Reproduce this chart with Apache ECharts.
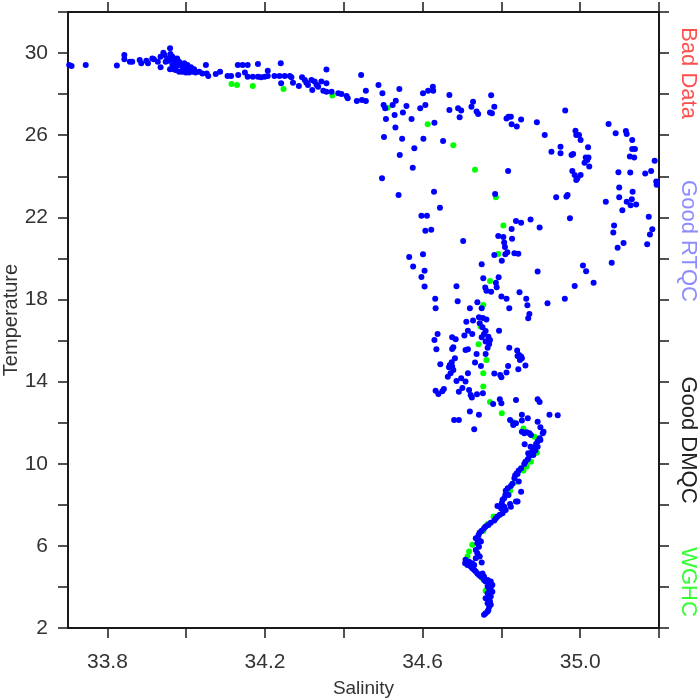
<!DOCTYPE html>
<html>
<head>
<meta charset="utf-8">
<script src="https://cdn.jsdelivr.net/npm/echarts@6/dist/echarts.min.js"></script>
<style>html,body{margin:0;padding:0;background:#fff}#c{width:700px;height:700px}</style>
</head>
<body>
<div id="c"></div>
<script>
// Salinity (x) / Temperature (y) tick values
var xTicks = [33.8, 34.0, 34.2, 34.4, 34.6, 34.8, 35.0, 35.2];
var xLabels = [33.8, 34.2, 34.6, 35.0];
var yTicks = [2, 4, 6, 8, 10, 12, 14, 16, 18, 20, 22, 24, 26, 28, 30, 32];
var yLabels = [2, 6, 10, 14, 18, 22, 26, 30];
var sideLabels = ['Bad Data', 'Good RTQC', 'Good DMQC', 'WGHC'];

// Good DMQC (blue) — surface mixed layer
var blueSurface = [
[33.703,29.42],[33.709,29.37],[33.745,29.42],[33.824,29.40],
[33.843,29.91],[33.843,29.70],[33.857,29.58],[33.863,29.58],[33.882,29.66],[33.886,29.50],[33.899,29.63],[33.903,29.50],
[33.914,29.74],[33.918,29.70],[33.928,29.58],[33.935,29.82],[33.942,30.02],[33.945,29.91],[33.948,29.58],[33.935,29.31],
[33.952,29.74],[33.959,30.23],[33.960,29.95],[33.965,29.82],[33.969,29.66],[33.973,29.50],[33.959,29.21],[33.977,29.74],
[33.982,29.58],[33.986,29.42],[33.990,29.34],[33.995,29.50],[33.999,29.26],[34.003,29.42],[34.007,29.18],[34.012,29.31],
[34.016,29.09],[34.020,29.21],[34.024,29.05],[34.033,29.09],[34.041,29.01],[34.050,29.42],[34.052,29.01],[34.056,28.88],
[34.075,28.98],[34.086,29.09],[34.105,28.88],[34.114,28.88],[34.131,29.42],[34.132,28.93],[34.143,29.42],[34.156,29.42],
[34.149,29.05],[34.156,28.85],[34.169,28.85],[34.182,29.47],[33.973,29.18],[33.982,29.09],[33.990,29.09],[33.999,29.05],
[34.007,29.05],[33.976,29.37],[33.965,29.42],[33.969,29.21],[33.955,29.62],[33.963,29.70],[33.978,29.46],[33.994,29.22],
[34.182,28.85],[34.190,28.82],[34.199,28.85],[34.207,29.14],[34.207,28.88],[34.224,28.88],[34.237,28.88],[34.240,29.50],
[34.241,28.53],[34.250,28.88],[34.263,28.88],[34.267,28.82],[34.271,28.56],[34.286,28.40],[34.294,28.82],[34.301,28.69],
[34.305,28.56],[34.309,28.45],[34.318,28.69],[34.320,28.20],[34.326,28.61],[34.331,28.45],[34.335,28.36],[34.343,28.61],
[34.356,29.20],[34.356,28.53],[34.348,28.17],[34.356,28.12],[34.369,28.12],[34.386,28.04],[34.394,28.01],[34.407,27.91],
[34.410,27.80],[34.433,27.67],[34.444,28.93],[34.446,27.72],[34.456,28.17],[34.456,27.67],[34.488,28.45]
];

// Good DMQC (blue) — thermocline scatter
var blueThermocline = [
[34.498,28.04],[34.541,28.25],[34.501,27.47],[34.505,27.31],[34.524,27.47],[34.532,27.68],[34.550,27.10],[34.559,27.42],
[34.529,26.98],[34.507,26.79],[34.572,26.79],[34.594,27.31],[34.531,26.37],[34.548,25.83],[34.502,25.91],[34.579,25.36],
[34.542,25.04],[34.575,24.42],[34.497,23.90],[34.539,23.09],[34.597,22.08],[34.566,20.07],[34.576,19.60],[34.597,19.10],
[34.601,28.04],[34.614,28.17],[34.626,28.36],[34.627,28.17],[34.607,27.47],[34.668,27.96],[34.668,27.23],[34.690,27.31],
[34.698,27.20],[34.694,26.87],[34.728,27.63],[34.724,27.39],[34.737,27.15],[34.741,27.03],[34.774,27.94],[34.782,27.39],
[34.771,27.10],[34.776,27.07],[34.813,26.81],[34.818,26.90],[34.824,26.90],[34.826,26.53],[34.839,26.42],[34.850,26.77],
[34.890,26.63],[34.910,26.01],[34.962,27.20],[34.988,26.22],[34.990,26.01],[34.997,26.01],[35.001,25.77],[35.020,25.41],
[35.021,24.92],[35.014,24.92],[35.018,24.79],[35.011,24.66],[35.023,24.47],[34.978,25.04],[34.982,25.09],[34.950,25.44],
[34.950,25.12],[34.927,25.20],[34.980,24.26],[34.986,24.06],[35.001,24.06],[34.990,23.82],[34.993,23.90],[34.939,22.98],
[34.965,23.01],[34.968,23.09],[34.974,21.95],[35.072,26.55],[35.090,26.09],[35.116,26.20],[35.118,26.06],[35.132,25.77],
[35.132,25.33],[35.139,25.33],[35.126,24.96],[35.137,24.91],[35.097,24.19],[35.127,24.18],[35.099,23.45],[35.099,22.98],
[35.133,23.25],[35.131,22.88],[35.118,22.76],[35.128,22.59],[35.142,22.62],[35.065,22.76],[35.107,22.34],[35.165,24.14],
[35.180,24.26],[35.189,24.76],[35.193,23.75],[35.194,23.59],[35.208,21.74],[35.174,22.03],[35.183,21.42],[35.177,21.17],
[35.170,20.69],[35.086,21.60],[35.084,21.26],[35.110,20.75],[35.095,20.52],[35.080,19.79],[35.007,19.65],[35.015,19.37],
[35.034,18.82],[34.986,18.66],[34.961,18.04],[34.917,17.81],[34.892,19.36],[34.897,21.50],[34.874,21.90],[34.850,21.74],
[34.837,21.82],[34.826,21.43],[34.827,20.96],[34.792,21.09],[34.805,21.04],[34.807,20.78],[34.809,20.56],[34.815,20.30],
[34.810,20.20],[34.801,19.89],[34.782,20.17],[34.833,20.25],[34.843,20.23],[34.817,24.26],[34.630,26.61],[34.652,25.72],
[34.602,25.83],[34.629,23.25],[34.644,22.47],[34.611,22.08],[34.607,21.35],[34.622,21.40],[34.703,20.85],[34.784,23.14],
[34.601,20.20],[34.605,19.40],[34.605,18.63],[34.632,18.04],[34.633,17.57],[34.750,19.71],[34.754,19.03],[34.793,19.08],
[34.786,18.82],[34.788,18.59],[34.759,18.58],[34.762,18.43],[34.774,18.38],[34.686,18.64],[34.689,17.91],[34.720,17.57],
[34.739,17.86],[34.750,17.57],[34.800,18.14],[34.813,18.04],[34.846,18.35],[34.863,18.04],[34.866,17.72],[34.820,17.57]
];

// Good DMQC (blue) — 12-18 degC band
var blueMid = [
[34.871,17.29],[34.868,17.08],[34.743,17.13],[34.753,17.10],[34.762,17.03],[34.745,16.84],[34.752,16.65],[34.728,16.97],
[34.711,16.92],[34.715,16.48],[34.726,16.32],[34.706,16.24],[34.684,16.06],[34.675,16.16],[34.638,16.32],[34.630,16.03],
[34.635,15.57],[34.678,15.67],[34.675,15.59],[34.709,15.54],[34.715,15.57],[34.750,16.16],[34.756,16.32],[34.760,16.47],
[34.767,16.19],[34.771,16.03],[34.760,15.95],[34.769,15.83],[34.765,15.65],[34.794,16.48],[34.820,15.65],[34.760,15.35],
[34.737,15.35],[34.733,14.93],[34.748,14.76],[34.682,15.14],[34.674,14.94],[34.669,14.81],[34.667,14.70],[34.675,14.73],
[34.678,14.57],[34.671,14.41],[34.664,14.24],[34.645,14.84],[34.686,14.03],[34.698,14.16],[34.709,14.00],[34.715,14.41],
[34.782,14.40],[34.797,14.32],[34.800,14.21],[34.813,14.44],[34.817,14.76],[34.840,15.51],[34.841,15.25],[34.845,15.30],
[34.850,15.22],[34.852,15.14],[34.847,15.05],[34.843,14.60],[34.861,14.78],[34.633,13.56],[34.640,13.40],[34.650,13.53],
[34.654,13.64],[34.692,13.51],[34.701,13.69],[34.718,13.59],[34.722,13.35],[34.725,13.22],[34.738,13.38],[34.753,13.43],
[34.779,12.91],[34.796,13.14],[34.800,12.94],[34.837,13.10],[34.892,13.14],[34.897,13.01],[34.720,12.54],[34.743,12.38],
[34.680,12.13],[34.692,12.13],[34.822,12.13],[34.831,11.97],[34.852,12.38],[34.867,12.21],[34.852,12.10],[34.892,12.05],
[34.922,12.38],[34.943,12.36],[34.731,11.68],[34.899,11.78],[34.830,11.89],[34.837,11.97],[34.907,11.56],[34.905,11.48],
[34.852,11.56],[34.858,11.48],[34.864,11.53],[34.871,11.48],[34.875,11.40]
];

// Good DMQC (blue) — deep snake
var blueDeep = [
[34.897,11.24],[34.892,11.08],[34.888,10.96],[34.884,10.80],[34.892,10.83],[34.899,11.16],[34.880,10.70],[34.876,10.54],
[34.886,10.64],[34.881,10.43],[34.871,10.38],[34.867,10.22],[34.861,10.10],[34.858,9.99],[34.868,10.51],[34.874,10.83],
[34.859,10.95],[34.850,9.78],[34.844,9.67],[34.839,9.54],[34.835,9.44],[34.833,9.29],[34.841,9.50],[34.844,9.13],
[34.828,9.02],[34.824,8.92],[34.816,8.80],[34.811,8.69],[34.810,8.48],[34.818,8.48],[34.807,8.32],[34.803,8.24],
[34.801,8.08],[34.850,8.64],[34.841,8.16],[34.790,7.94],[34.799,7.83],[34.807,7.91],[34.811,7.75],[34.803,7.59],
[34.796,7.51],[34.790,7.43],[34.786,7.34],[34.782,7.23],[34.773,7.13],[34.767,7.02],[34.760,6.94],[34.756,6.86],
[34.822,8.04],[34.837,8.16],[34.824,7.91],[34.750,6.74],[34.745,6.65],[34.742,6.53],[34.735,6.37],[34.743,6.29],
[34.748,6.21],[34.739,6.13],[34.743,5.96],[34.735,5.80],[34.739,5.64],[34.745,5.48],[34.735,5.40],[34.709,5.32],
[34.708,5.15],[34.714,5.07],[34.720,5.12],[34.726,5.15],[34.750,5.19],[34.722,4.99],[34.726,4.91],[34.731,4.83],
[34.735,4.75],[34.739,4.66],[34.743,4.58],[34.748,4.50],[34.756,4.34],[34.760,4.26],[34.765,4.34],[34.769,4.18],
[34.773,4.26],[34.777,4.10],[34.765,4.02],[34.769,3.94],[34.773,3.86],[34.765,3.69],[34.769,3.61],[34.773,3.53],
[34.777,3.77],[34.767,3.37],[34.771,3.29],[34.765,3.21],[34.769,3.04],[34.767,2.88],[34.760,2.72],[34.756,2.64],
[34.718,5.23],[34.731,5.07],[34.752,4.66],[34.756,4.50],[34.773,4.02],[34.760,3.45],[34.773,3.13],[34.765,2.80]
];

// WGHC (green)
var greenWGHC = [
[34.115,28.49],[34.129,28.45],[34.169,28.40],[34.247,28.25],[34.371,27.93],[34.511,27.34],[34.613,26.53],[34.678,25.51],
[34.733,24.32],[34.786,22.98],[34.805,21.60],[34.792,20.21],[34.771,18.90],[34.754,17.73],[34.747,16.68],[34.742,15.82],
[34.762,15.05],[34.754,14.41],[34.754,13.76],[34.771,13.01],[34.801,12.46],[34.828,12.05],[34.856,11.71],[34.884,11.32],
[34.890,10.54],[34.875,10.10],[34.864,9.86],[34.856,9.67],[34.833,9.08],[34.822,8.69],[34.780,7.43],[34.765,7.07],
[34.754,6.73],[34.726,6.05],[34.718,5.72],[34.714,5.48],[34.752,4.42],[34.760,3.82]
];

var blueAll = blueSurface.concat(blueThermocline, blueMid, blueDeep);

var chart = echarts.init(document.getElementById('c'), null, {renderer: 'canvas'});
var lineStyle = {color: '#1a1a1a', width: 2};
var tickStyle = {color: '#1a1a1a', width: 1.5};
var labelFont = {fontFamily: 'Liberation Sans', fontSize: 21, color: '#333'};

function xAx(pos, showLabel) {
  return {
    type: 'value', position: pos, min: 33.7, max: 35.2,
    axisLine: {show: true, onZero: false, lineStyle: lineStyle},
    axisTick: {show: true, inside: false, length: 10, lineStyle: tickStyle, customValues: xTicks},
    axisLabel: Object.assign({show: showLabel, margin: 24, customValues: xLabels,
      formatter: function (v) { return v.toFixed(1); }}, labelFont),
    splitLine: {show: false}
  };
}
function yAx(pos, showLabel) {
  return {
    type: 'value', position: pos, min: 2, max: 32,
    axisLine: {show: true, onZero: false, lineStyle: lineStyle},
    axisTick: {show: true, inside: false, length: 10, lineStyle: tickStyle, customValues: yTicks},
    axisLabel: Object.assign({show: showLabel, margin: 20, customValues: yLabels}, labelFont),
    splitLine: {show: false}
  };
}

var xa0 = xAx('bottom', true);
xa0.name = 'Salinity'; xa0.nameLocation = 'middle'; xa0.nameGap = 51;
xa0.nameTextStyle = {fontFamily: 'Liberation Sans', fontSize: 19, color: '#333'};
var ya0 = yAx('left', true);
ya0.name = 'Temperature'; ya0.nameLocation = 'middle'; ya0.nameGap = 47; ya0.nameMoveOverlap = false;
ya0.nameTextStyle = {fontFamily: 'Liberation Sans', fontSize: 20, color: '#333'};

var sideColors = ['#ff5050', '#8c8cff', '#222222', '#33ff33'];
var sideY = [73, 241, 440, 582];
var graphics = sideLabels.map(function (t, i) {
  return {
    type: 'text', x: 688, y: sideY[i], rotation: -Math.PI / 2,
    style: {text: t, fill: sideColors[i], font: '22px "Liberation Sans"', textAlign: 'center', textVerticalAlign: 'middle', verticalAlign: 'middle'}
  };
});

chart.setOption({
  animation: false,
  backgroundColor: '#fff',
  grid: {left: 68, right: 41, top: 12, bottom: 72, containLabel: false, outerBoundsMode: 'none'},
  xAxis: [xa0, xAx('top', false)],
  yAxis: [ya0, yAx('right', false)],
  graphic: graphics,
  series: [
    {type: 'scatter', name: 'WGHC', data: greenWGHC, symbolSize: 6, z: 2,
     itemStyle: {color: '#00ff00', opacity: 1}},
    {type: 'scatter', name: 'Good DMQC', data: blueAll, symbolSize: 6, z: 3,
     itemStyle: {color: '#0000ff', opacity: 1}}
  ]
});
</script>
</body>
</html>
